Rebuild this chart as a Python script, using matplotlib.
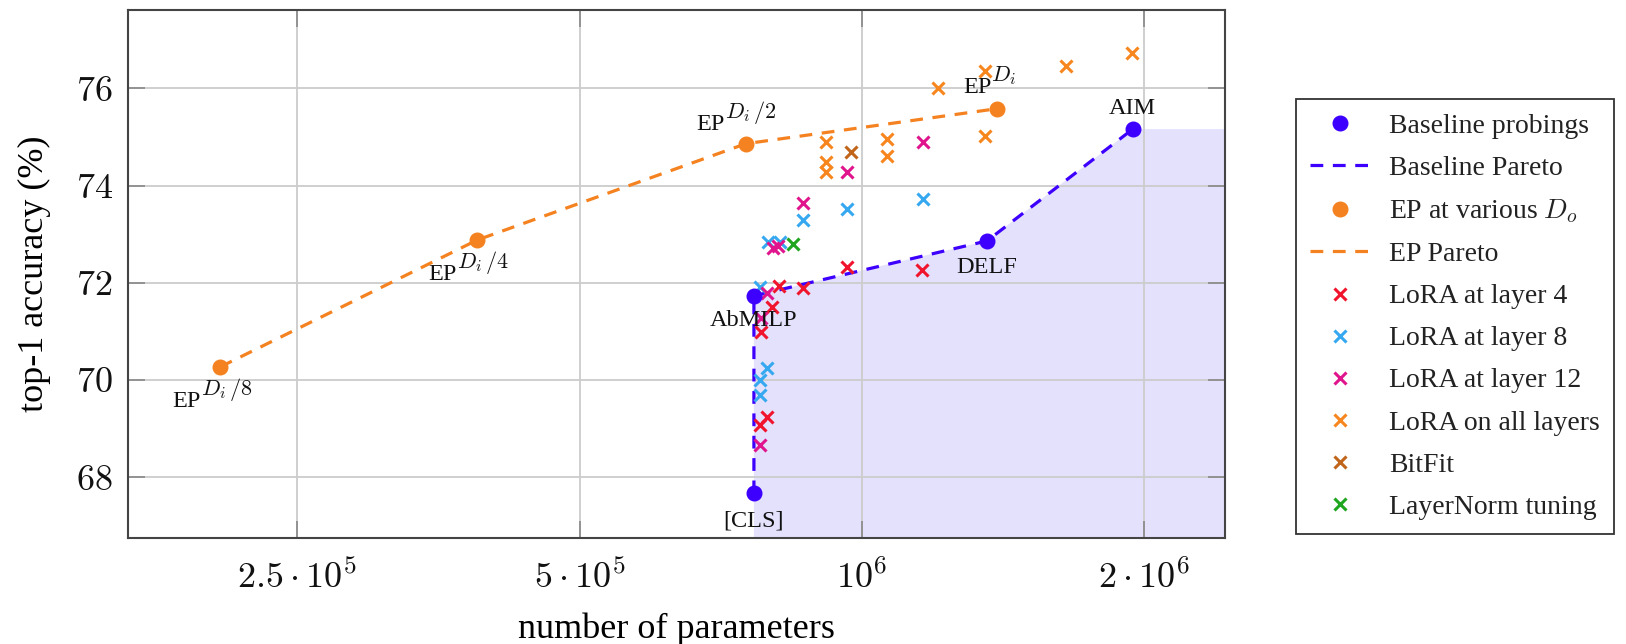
import matplotlib
matplotlib.use("Agg")
import matplotlib.pyplot as plt
from matplotlib.ticker import FixedLocator, NullLocator

plt.rcParams["font.family"] = ["Liberation Serif", "DejaVu Serif"]
plt.rcParams["mathtext.fontset"] = "cm"

# baseline probings (Pareto front drawn through them)
baseline_names = ["[CLS]", "AbMILP", "DELF", "AIM"]
baseline_params = [7.67e5, 7.67e5, 1.359e6, 1.944e6]
baseline_acc = [67.67, 71.73, 72.86, 75.16]
baseline_offsets = [(0, -24), (0, -22), (0, -23), (0, 11)]

# EP at various D_o; label = "EP" + superscript
ep_sups = [r"$D_i\,/8$", r"$D_i\,/4$", r"$D_i\,/2$", r"$D_i$"]
ep_params = [2.07e5, 3.89e5, 7.52e5, 1.393e6]
ep_acc = [70.27, 72.88, 74.86, 75.58]
ep_offsets = [(-14, -29), (-15, -29), (-15, 10), (-4, 11)]

lora4_params = [9.64e5, 1.159e6, 8.16e5, 8.65e5, 8.02e5, 7.80e5, 7.92e5, 7.785e5]
lora4_acc = [72.33, 72.26, 71.93, 71.89, 71.50, 70.99, 69.24, 69.07]

lora8_params = [7.785e5, 7.92e5, 7.785e5, 7.785e5, 7.94e5, 8.18e5, 8.65e5, 9.64e5, 1.162e6]
lora8_acc = [71.91, 70.25, 70.00, 69.69, 72.84, 72.84, 73.29, 73.52, 73.72]

lora12_params = [7.785e5, 7.80e5, 7.92e5, 8.04e5, 8.14e5, 8.65e5, 9.64e5, 1.162e6]
lora12_acc = [68.66, 71.28, 71.79, 72.72, 72.76, 73.64, 74.28, 74.90]

loraall_params = [9.15e5, 9.15e5, 9.15e5, 1.063e6, 1.063e6, 1.354e6, 1.205e6, 1.354e6, 1.650e6, 1.941e6]
loraall_acc = [74.90, 74.49, 74.28, 74.96, 74.61, 75.02, 76.01, 76.36, 76.46, 76.73]

bitfit_params = [9.73e5]
bitfit_acc = [74.69]

layernorm_params = [8.44e5]
layernorm_acc = [72.80]

xticks = [2.5e5, 5e5, 1e6, 2e6]
xtick_labels = [r"$2.5\cdot10^5$", r"$5\cdot10^5$", r"$10^6$", r"$2\cdot10^6$"]
yticks = [68, 70, 72, 74, 76]

BLUE = "#3d00ff"
ORANGE = "#f58220"
DASH = (0, (4, 3))

fig = plt.figure(figsize=(16.26, 6.44), dpi=100)
ax = fig.add_axes([0.0787, 0.1646, 0.6747, 0.8199])
ax.set_xscale("log")
xmin, xmax = 1.65e5, 2.438e6
ymin, ymax = 66.75, 77.61
ax.set_xlim(xmin, xmax)
ax.set_ylim(ymin, ymax)

# shaded region dominated by the baseline Pareto front
fill_x = [baseline_params[0]] + baseline_params + [xmax, xmax]
fill_y = [ymin] + baseline_acc + [baseline_acc[-1], ymin]
ax.fill(fill_x, fill_y, color="#e3e1fc", lw=0, zorder=0.2)

h_bl_line, = ax.plot(baseline_params, baseline_acc, ls=DASH, lw=2.3, color=BLUE, zorder=2)
h_ep_line, = ax.plot(ep_params, ep_acc, ls=DASH, lw=2.3, color=ORANGE, zorder=2)

xkw = dict(ls="none", marker="x", ms=8.5, mew=2.2, zorder=3)
h4, = ax.plot(lora4_params, lora4_acc, color="#f0142d", **xkw)
h8, = ax.plot(lora8_params, lora8_acc, color="#35a8ef", **xkw)
h12, = ax.plot(lora12_params, lora12_acc, color="#e0148c", **xkw)
hall, = ax.plot(loraall_params, loraall_acc, color="#f7861f", **xkw)
hbit, = ax.plot(bitfit_params, bitfit_acc, color="#c0651a", **xkw)
hln, = ax.plot(layernorm_params, layernorm_acc, color="#1fa51f", **xkw)

h_bl, = ax.plot(baseline_params, baseline_acc, ls="none", marker="o", ms=10.5, color=BLUE, zorder=4)
h_ep, = ax.plot(ep_params, ep_acc, ls="none", marker="o", ms=10.5, color=ORANGE, zorder=4)

for name, x, y, off in zip(baseline_names, baseline_params, baseline_acc, baseline_offsets):
    ax.annotate(name, (x, y), xytext=off, textcoords="offset points",
                ha="center", va="baseline", fontsize=17.5, color="#111111", zorder=5)
for sup, x, y, off in zip(ep_sups, ep_params, ep_acc, ep_offsets):
    ax.annotate("EP", (x, y), xytext=off, textcoords="offset points",
                ha="right", va="baseline", fontsize=17.5, color="#111111", zorder=5)
    ax.annotate(sup, (x, y), xytext=(off[0], off[1] + 8.5), textcoords="offset points",
                ha="left", va="baseline", fontsize=16, color="#111111", zorder=5)

ax.xaxis.set_major_locator(FixedLocator(xticks))
ax.xaxis.set_minor_locator(NullLocator())
ax.set_xticklabels(xtick_labels)
ax.set_yticks(yticks)
ax.set_yticklabels([r"$%d$" % v for v in yticks])
ax.tick_params(which="major", direction="in", length=12, width=1.2, color="#888888",
               top=True, right=True, labelsize=26, labelcolor="#111111")
ax.tick_params(axis="x", pad=16)
ax.tick_params(axis="y", pad=11)
ax.grid(True, color="#cccccc", lw=1.3)
ax.set_axisbelow(True)
for s in ax.spines.values():
    s.set_color("#444444")
    s.set_linewidth(1.5)

ax.set_xlabel("number of parameters", fontsize=26, labelpad=12)
ax.set_ylabel("top-1 accuracy (%)", fontsize=26, labelpad=18)

handles = [h_bl, h_bl_line, h_ep, h_ep_line, h4, h8, h12, hall, hbit, hln]
labels = ["Baseline probings", "Baseline Pareto", r"EP at various $D_o$", "EP Pareto",
          "LoRA at layer 4", "LoRA at layer 8", "LoRA at layer 12", "LoRA on all layers",
          "BitFit", "LayerNorm tuning"]
leg = fig.legend(handles, labels, loc="upper left", bbox_to_anchor=(0.797, 0.846),
                 bbox_transform=fig.transFigure, fontsize=20, frameon=True,
                 fancybox=False, edgecolor="#333333", framealpha=1,
                 handlelength=2.2, handletextpad=0.65, borderpad=0.5,
                 labelspacing=0.6, borderaxespad=0)
leg.get_frame().set_linewidth(1.3)
for t in leg.get_texts():
    t.set_color("#222222")

fig.savefig("out.png", dpi=100)
